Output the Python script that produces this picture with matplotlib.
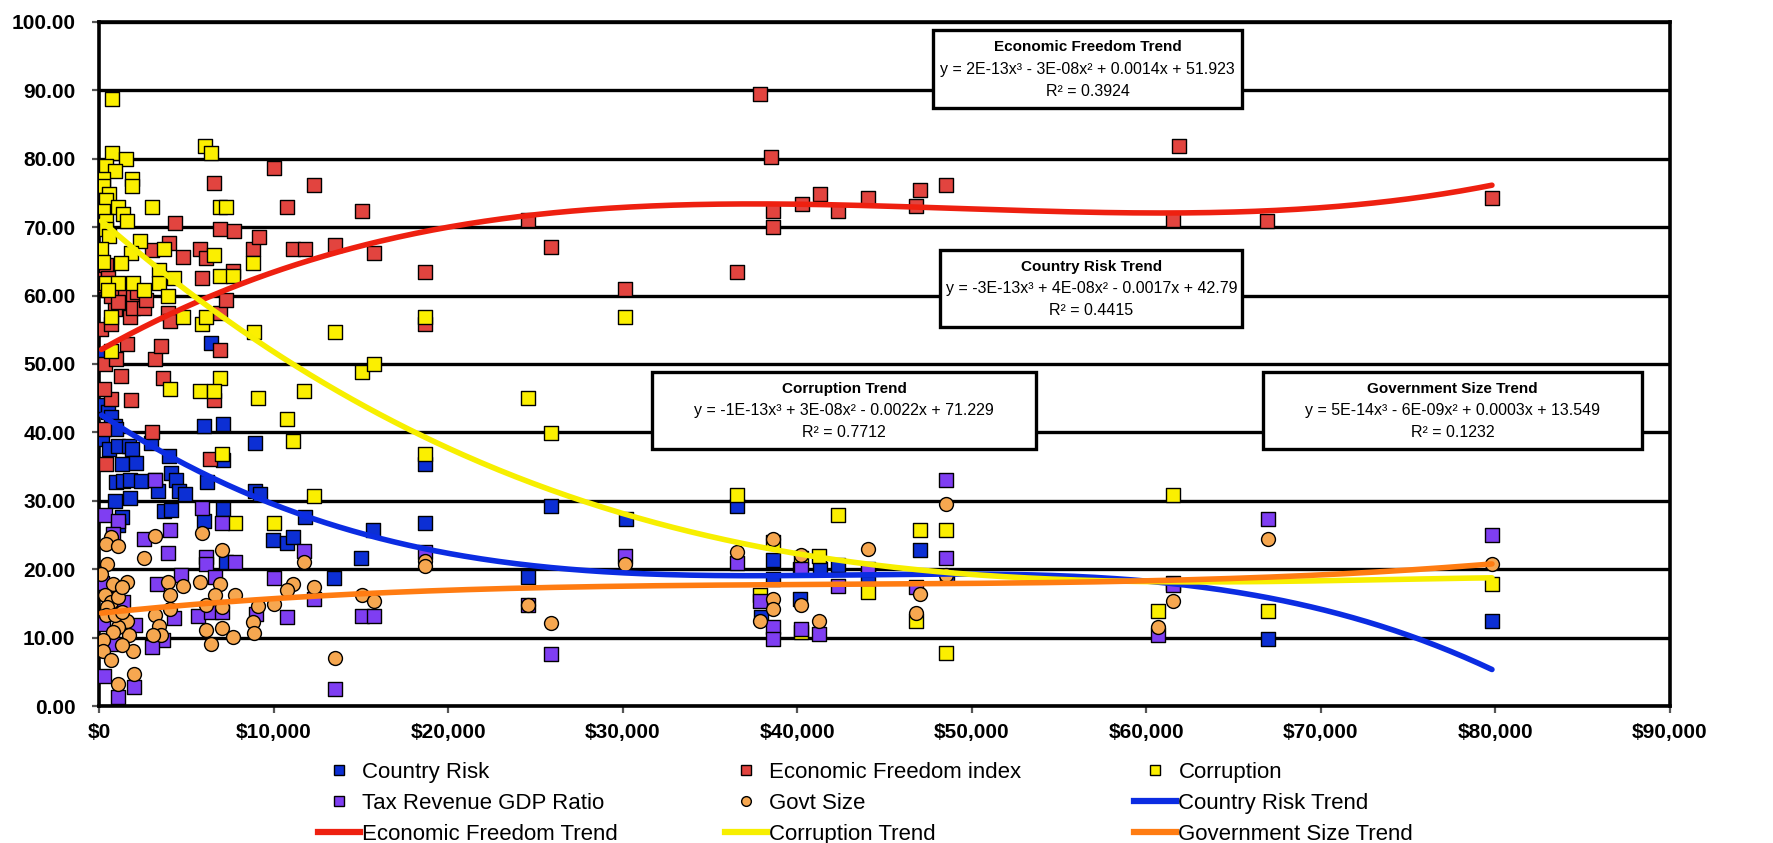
import numpy as np
import matplotlib
matplotlib.use("Agg")
import matplotlib.pyplot as plt
from matplotlib.lines import Line2D
from matplotlib.patches import Rectangle

plt.rcParams['font.family'] = ['Liberation Sans', 'DejaVu Sans']

# ---------------- data: GDP per capita (US$) vs. index values ----------------
risk_gdp = [150, 300, 500, 700, 900, 200, 1000, 600, 1100, 1300, 1700, 1900, 2100, 1000, 1400,
            1800, 2400, 3200, 3400, 900, 1800, 1300, 1100, 3000, 4000, 4100, 4400, 4600, 4900, 3700,
            4100, 6000, 6400, 6200, 6000, 7100, 7100, 7100, 7300, 8930, 8930, 9240, 9960, 10780, 11090,
            11810, 13450, 14990, 15710, 18690, 18690, 24550, 25880, 30190, 36560, 37900, 38620, 38620,
            40160, 40160, 41290, 42310, 44060, 47040, 48580, 61520, 66960, 79800]
risk_val = [51.5, 44.0, 43.0, 42.2, 41.0, 39.0, 40.5, 37.5, 38.0, 35.4, 38.0, 37.5, 35.5, 32.7, 32.9,
            33.0, 32.9, 33.0, 31.5, 29.9, 30.4, 27.6, 26.5, 38.5, 36.5, 34.0, 33.0, 31.5, 31.0, 28.5,
            28.6, 40.9, 53.1, 32.7, 27.0, 41.3, 36.0, 28.8, 21.0, 38.4, 31.4, 31.0, 24.2, 23.9, 24.7,
            27.6, 18.7, 21.6, 25.7, 35.4, 26.8, 18.8, 29.3, 27.3, 29.2, 13.0, 21.3, 18.5,
            15.6, 20.0, 20.0, 20.6, 19.0, 22.8, 19.0, 18.0, 9.8, 12.4]

efi_gdp = [290, 400, 140, 350, 250, 670, 890, 1000, 1270, 1300, 1630, 1750, 1950, 1950, 2580,
           300, 400, 500, 700, 1100, 2200, 2700, 3010, 3060, 3220, 3550, 3690, 3970, 4010, 4070,
           4330, 4800, 5780, 5880, 6110, 6380, 6590, 6590, 6950, 6950, 6950, 7270, 7700, 7740, 8800,
           9140, 10000, 10750, 11090, 11790, 12290, 13500, 15060, 15730, 18690, 18690, 24550, 25880,
           30150, 36560, 37880, 38500, 38620, 38620, 40280, 41310, 42330, 44060, 46800, 47040,
           48530, 61900, 61510, 66940, 79800, 1840, 670, 290]
efi_val = [40.5, 35.4, 55.1, 50.0, 61.5, 55.8, 58.0, 50.8, 48.3, 60.0, 52.9, 56.8, 60.0, 58.2, 58.2,
           63.5, 64.5, 62.5, 60.0, 59.0, 60.5, 59.3, 66.6, 40.1, 50.8, 52.7, 47.9, 57.5, 67.7, 56.3,
           70.6, 65.7, 66.8, 62.6, 65.5, 36.1, 76.5, 44.7, 69.7, 57.5, 52.0, 59.4, 63.6, 69.5, 66.8,
           68.6, 78.6, 73.0, 66.8, 66.8, 76.1, 67.4, 72.3, 66.3, 63.5, 55.8, 71.1, 67.1,
           60.9, 63.4, 89.5, 80.2, 72.3, 70.1, 73.4, 74.9, 72.3, 74.3, 73.1, 75.5,
           76.2, 81.8, 71.1, 70.9, 74.3, 44.7, 44.9, 46.3]

corr_gdp = [720, 720, 1570, 400, 890, 220, 1900, 1900, 250, 560, 400, 3060, 1110, 6950, 7270,
            250, 1400, 1630, 400, 400, 560, 2330, 140, 3720, 1840, 6590, 250, 1270, 8800, 3450,
            4290, 6950, 7700, 400, 1060, 1950, 3450, 500, 2580, 3970, 5880, 6110, 670, 4830, 8890,
            13500, 18690, 670, 15040, 15730, 6950, 4070, 5780, 6590, 9100, 11750, 24550, 10750, 11090,
            25880, 7060, 18690, 12290, 7800, 10000, 30150, 36560, 38620, 37880, 40210, 41250, 40210,
            42310, 44060, 47040, 46800, 48530, 48530, 60640, 61520, 66960, 79800, 6100, 6420]
corr_val = [88.8, 80.9, 80.0, 79.0, 78.2, 77.0, 77.0, 76.0, 76.0, 74.8, 74.0, 73.0, 73.0, 73.0, 73.0,
            72.4, 71.9, 70.9, 70.9, 69.7, 68.7, 68.0, 66.8, 66.8, 66.2, 66.0, 64.9, 64.8, 64.8, 63.8,
            62.6, 62.9, 62.9, 61.9, 61.9, 61.9, 61.9, 60.8, 60.8, 60.0, 55.9, 56.8, 56.9, 56.8, 54.7,
            54.7, 56.9, 51.9, 48.9, 50.0, 48.0, 46.3, 46.1, 46.1, 45.1, 46.1, 45.1, 41.9, 38.8,
            39.9, 36.8, 36.8, 30.7, 26.8, 26.8, 56.8, 30.8, 24.0, 16.2, 21.7, 21.9, 10.8,
            27.9, 16.6, 25.8, 12.5, 25.8, 7.7, 13.9, 30.8, 13.9, 17.8, 81.9, 80.9]

tax_gdp = [340, 1100, 780, 3190, 4050, 2550, 3970, 5890, 7020, 6110, 6110, 7800, 6640, 10000, 11750,
           12290, 18690, 3340, 4710, 4290, 5680, 6420, 7020, 9010, 10750, 15040, 15730, 340, 200, 1400,
           2050, 3660, 3060, 780, 230, 290, 2010, 1060, 13500, 25880, 24550, 30150, 36560, 37880, 38620,
           38620, 40210, 40210, 41250, 42310, 44060, 46800, 48530, 48530, 60640, 61520, 66960, 79800]
tax_val = [27.9, 27.1, 25.2, 33.1, 25.7, 24.4, 22.4, 28.9, 26.8, 21.8, 20.8, 21.0, 18.8, 18.7, 22.6,
           15.7, 22.5, 17.9, 19.1, 12.8, 13.2, 13.7, 13.7, 13.5, 13.0, 13.2, 13.2, 16.6, 18.0, 15.2,
           11.8, 9.6, 8.6, 9.1, 12.0, 4.4, 2.8, 1.3, 2.5, 7.6, 14.7, 22.0, 20.9, 15.3, 11.5,
           9.8, 20.0, 11.3, 10.5, 17.5, 20.0, 17.4, 33.0, 21.6, 10.4, 17.7, 27.3, 25.0]

gov_gdp = [670, 400, 1060, 2550, 450, 130, 780, 1630, 3190, 3970, 4830, 4070, 4070, 5780, 5880,
           7060, 6950, 6640, 7800, 6110, 7060, 9100, 10000, 11090, 10750, 11750, 12290, 15040, 15730, 18690,
           18690, 24550, 25880, 13500, 6110, 7060, 6420, 7700, 8800, 8890, 3220, 3450, 3550, 3120, 1730,
           1630, 1950, 1340, 1100, 780, 230, 230, 670, 1060, 2010, 340, 670, 1060, 1300, 450,
           400, 890, 1300, 30150, 36560, 38620, 37880, 38620, 38620, 40210, 40210, 41250, 44060, 47040, 46800,
           48530, 48530, 60640, 61520, 66960, 79800]
gov_val = [24.7, 23.7, 23.4, 21.6, 20.8, 19.3, 17.9, 18.1, 24.8, 18.1, 17.6, 16.3, 14.2, 18.1, 25.3,
           22.8, 17.9, 16.3, 16.3, 14.8, 14.5, 14.6, 14.9, 17.9, 17.0, 21.0, 17.4, 16.2, 15.3, 21.2,
           20.5, 14.7, 12.1, 7.0, 11.1, 11.4, 9.0, 10.1, 12.3, 10.7, 13.3, 11.7, 10.4, 10.4, 10.4,
           12.5, 8.1, 8.9, 11.5, 10.8, 9.6, 8.0, 6.7, 3.2, 4.7, 16.2, 15.2, 15.9, 17.4, 14.5,
           13.3, 13.3, 13.7, 20.7, 22.5, 24.4, 12.4, 15.7, 14.2, 22.1, 14.7, 12.5, 22.9, 16.4, 13.6,
           29.5, 19.1, 11.5, 15.3, 24.4, 20.7]

# cubic trend coefficients (highest power first) and their R^2
risk_trend = [-3.08e-13, 4.0e-8, -0.0017, 42.79]
efi_trend = [2.1e-13, -3.1e-8, 0.00144, 51.923]
corr_trend = [-1.4e-13, 3.1e-8, -0.00224, 71.229]
gov_trend = [4.7e-14, -6.0e-9, 0.00027, 13.549]
r_squared = {'risk': 0.4415, 'efi': 0.3924, 'corr': 0.7712, 'gov': 0.1232}

x_ticks = list(range(0, 90001, 10000))
y_ticks = list(range(0, 101, 10))

# ---------------- styling ----------------
C_BLUE, C_RED, C_YEL, C_PUR, C_ORA = '#0c2fd4', '#e2443f', '#fbef00', '#7f3ef2', '#f6a750'
T_BLUE, T_RED, T_YEL, T_ORA = '#0b2ce2', '#ee2010', '#f7ef00', '#ff7c12'


def trend_label(title, coef, r2):
    def sci(c):
        return f"{abs(c):.0E}"
    parts = [sci(coef[0]) + "x³", sci(coef[1]) + "x²",
             f"{abs(coef[2]):.4f}" + "x", f"{abs(coef[3]):.3f}".rstrip('0').rstrip('.')]
    eq = "y = " + ("-" if coef[0] < 0 else "") + parts[0]
    for c, p in zip(coef[1:], parts[1:]):
        eq += (" - " if c < 0 else " + ") + p
    return title, eq, f"R² = {r2:.4f}"


W, H = 1773, 843
fig = plt.figure(figsize=(W / 100, H / 100), dpi=100)
ax = fig.add_axes([99 / W, 1 - 706 / H, (1670 - 99) / W, (706 - 22) / H])
ax.set_xlim(0, 90000)
ax.set_ylim(0, 100)
ax.set_xticks(x_ticks, labels=[f"${v:,.0f}" for v in x_ticks], fontsize=15, fontweight='bold')
ax.set_yticks(y_ticks, labels=[f"{v:.2f}" for v in y_ticks], fontsize=15, fontweight='bold')
ax.tick_params(axis='both', length=5, width=1.6, color='#555555')
ax.tick_params(axis='x', pad=7)
ax.tick_params(axis='y', pad=12)
ax.grid(axis='y', color='black', linewidth=2.4)
ax.set_axisbelow(True)
for s in ax.spines.values():
    s.set_linewidth(2.6)
    s.set_color('black')

series = [
    (risk_gdp, risk_val, 's', C_BLUE),
    (efi_gdp, efi_val, 's', C_RED),
    (corr_gdp, corr_val, 's', C_YEL),
    (tax_gdp, tax_val, 's', C_PUR),
    (gov_gdp, gov_val, 'o', C_ORA),
]
for xs, ys, mk, col in series:
    ax.scatter(xs, ys, marker=mk, s=100, c=col, edgecolors='black', linewidths=1.0, zorder=3)

trends = [
    (risk_gdp, risk_trend, T_BLUE),
    (efi_gdp, efi_trend, T_RED),
    (corr_gdp, corr_trend, T_YEL),
    (gov_gdp, gov_trend, T_ORA),
]
for xs, coef, col in trends:
    xx = np.linspace(min(xs), max(xs), 400)
    ax.plot(xx, np.polyval(coef, xx), color=col, lw=4.0, zorder=4, solid_capstyle='round')

# equation boxes: (x0, x1, y0, y1) in data units
boxes = [
    (trend_label("Economic Freedom Trend", efi_trend, r_squared['efi']), (47800, 65500, 87.4, 98.8)),
    (trend_label("Country Risk Trend", risk_trend, r_squared['risk']), (48200, 65500, 55.4, 66.6)),
    (trend_label("Corruption Trend", corr_trend, r_squared['corr']), (31700, 53700, 37.5, 48.8)),
    (trend_label("Government Size Trend", gov_trend, r_squared['gov']), (66700, 88400, 37.5, 48.8)),
]
for (title, eq, r2), (x0, x1, y0, y1) in boxes:
    ax.add_patch(Rectangle((x0, y0), x1 - x0, y1 - y0, facecolor='white', edgecolor='black',
                           linewidth=2.4, zorder=6))
    xc = (x0 + x1) / 2
    h = y1 - y0
    ax.text(xc, y1 - 0.22 * h, title, ha='center', va='center', fontsize=11,
            fontweight='bold', zorder=7)
    ax.text(xc, y1 - 0.50 * h, eq, ha='center', va='center', fontsize=11.5, zorder=7)
    ax.text(xc, y1 - 0.78 * h, r2, ha='center', va='center', fontsize=11.5, zorder=7)


def mk_handle(marker, col):
    return Line2D([], [], marker=marker, ls='none', markersize=7, markerfacecolor=col,
                  markeredgecolor='black', markeredgewidth=1.0)


def ln_handle(col):
    return Line2D([], [], color=col, lw=4.5)


legend_cols = [
    [(mk_handle('s', C_BLUE), 'Country Risk'), (mk_handle('s', C_PUR), 'Tax Revenue GDP Ratio'),
     (ln_handle(T_RED), 'Economic Freedom Trend')],
    [(mk_handle('s', C_RED), 'Economic Freedom index'), (mk_handle('o', C_ORA), 'Govt Size'),
     (ln_handle(T_YEL), 'Corruption Trend')],
    [(mk_handle('s', C_YEL), 'Corruption'), (ln_handle(T_BLUE), 'Country Risk Trend'),
     (ln_handle(T_ORA), 'Government Size Trend')],
]
for x_px, col in zip([318, 725, 1134], legend_cols):
    fig.legend([h for h, _ in col], [t for _, t in col], loc='upper left',
               bbox_to_anchor=(x_px / W, 1 - 762 / H), frameon=False,
               prop={'size': 16}, handlelength=1.9, handletextpad=0.1,
               labelspacing=0.45, borderpad=0, borderaxespad=0)

fig.savefig('out.png', dpi=100, facecolor='white')
